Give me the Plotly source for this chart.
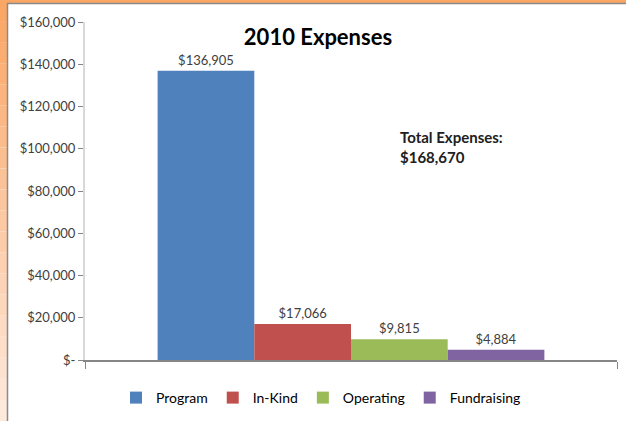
import plotly.graph_objects as go

categories = ["Program", "In-Kind", "Operating", "Fundraising"]
values = [136905, 17066, 9815, 4884]
colors = ["#4F81BD", "#C0504D", "#9BBB59", "#8064A2"]
year = ["2010"]
tick_vals = [0, 20000, 40000, 60000, 80000, 100000, 120000, 140000, 160000]
tick_text = ["$-", "$20,000", "$40,000", "$60,000", "$80,000", "$100,000",
             "$120,000", "$140,000", "$160,000"]
title_text = "2010 Expenses"
total_text = "Total Expenses:<br>$168,670"

FONT = "Lato, Open Sans, sans-serif"
W, H = 626, 421
L, R, T, B = 85, 9, 22, 61

fig = go.Figure()
for name, v, c in zip(categories, values, colors):
    fig.add_trace(go.Bar(
        name=name, x=year, y=[v], marker=dict(color=c, line=dict(width=0)),
        text=["${:,}".format(v)], textposition="outside", cliponaxis=False,
        textfont=dict(size=13, color="#404040", family=FONT),
    ))

pw = W - L - R
ph = H - T - B
def px_x(p):
    return (p - L) / pw
def px_y(p):
    return (H - B - p) / ph

shapes = []
n = 20
def lerp(a, b, t):
    return int(round(a + (b - a) * t))
top_c = (250, 166, 100)
bot_c = (253, 232, 220)
for i in range(n):
    t = i / (n - 1)
    col = "rgb({},{},{})".format(*[lerp(a, b, t) for a, b in zip(top_c, bot_c)])
    y0 = i * H / n
    y1 = (i + 1) * H / n
    shapes.append(dict(type="rect", xref="paper", yref="paper",
                       x0=px_x(0), x1=px_x(7), y0=px_y(y1), y1=px_y(y0),
                       fillcolor=col, line=dict(width=0), layer="below"))
shapes.append(dict(type="rect", xref="paper", yref="paper",
                   x0=px_x(0), x1=px_x(W), y0=px_y(3), y1=px_y(0),
                   fillcolor="rgb(250,166,100)", line=dict(width=0), layer="below"))
shapes.append(dict(type="line", xref="paper", yref="paper",
                   x0=px_x(7), x1=px_x(W), y0=px_y(3.5), y1=px_y(3.5),
                   line=dict(color="#8a8a8a", width=1.5), layer="below"))
shapes.append(dict(type="line", xref="paper", yref="paper",
                   x0=px_x(7.5), x1=px_x(7.5), y0=px_y(H), y1=px_y(3),
                   line=dict(color="#8a8a8a", width=1.5), layer="below"))

fig.update_layout(
    width=W, height=H,
    margin=dict(l=L, r=R, t=T, b=B, autoexpand=False),
    paper_bgcolor="white", plot_bgcolor="white",
    barmode="group", bargap=0.273, bargroupgap=0,
    font=dict(family=FONT, color="#404040"),
    title=dict(text="<b>" + title_text + "</b>", x=318 / W, xanchor="center",
               y=1 - 37 / H, yanchor="middle", yref="container",
               font=dict(size=22, color="#000000", family=FONT)),
    xaxis=dict(type="category", showticklabels=False, showline=True,
               linecolor="#868686", linewidth=1.5, ticks="outside",
               tickson="boundaries", ticklen=7, tickcolor="#868686",
               showgrid=False, zeroline=False, automargin=False),
    yaxis=dict(range=[0, 160000], tickvals=tick_vals, ticktext=tick_text,
               showline=True, linecolor="#d9d9d9", linewidth=2,
               ticks="outside", ticklen=5, tickcolor="#868686",
               showgrid=False, zeroline=False, automargin=False,
               tickfont=dict(size=13, color="#404040", family=FONT)),
    legend=dict(orientation="h", x=px_x(321), xanchor="center",
                y=px_y(398), yanchor="middle",
                font=dict(size=14, color="#000000", family=FONT),
                itemwidth=30, traceorder="normal", tracegroupgap=0,
                itemclick=False, itemdoubleclick=False),
    hovermode=False,
    shapes=shapes,
    annotations=[dict(text="<b>" + total_text + "</b>", xref="paper", yref="paper",
                      x=px_x(398), y=px_y(147), xanchor="left", yanchor="middle",
                      align="left", showarrow=False,
                      font=dict(size=15, color="#202020", family=FONT))],
)

fig.write_html("out.html", config={"displayModeBar": False},
               post_script="document.body.style.margin='0';")
